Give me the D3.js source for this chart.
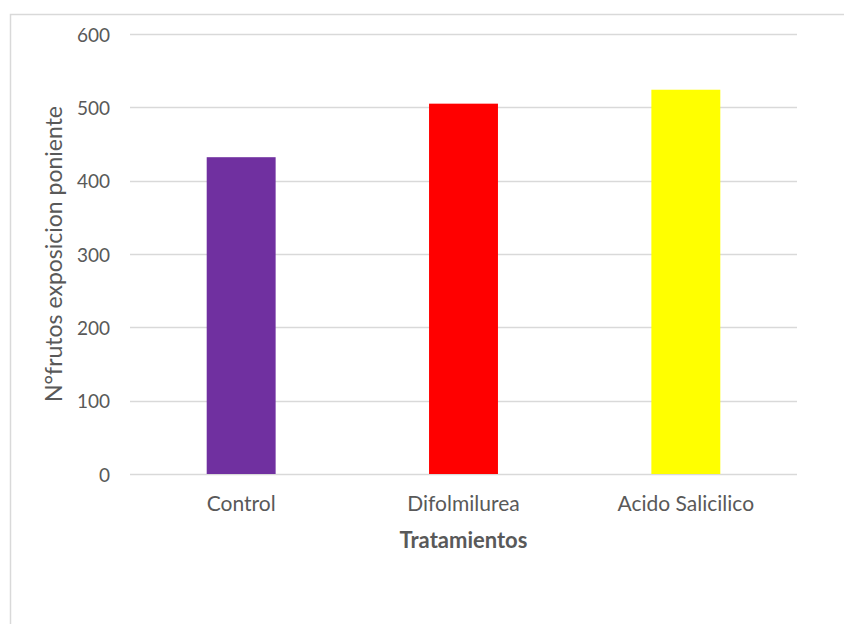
<!DOCTYPE html>
<html>
<head>
<meta charset="utf-8">
<script src="https://cdn.jsdelivr.net/npm/d3@7"></script>
<style>
  body { margin: 0; background: #fff; }
  svg { display: block; }
  svg text { font-family: Lato, "Open Sans", sans-serif; }
</style>
</head>
<body>
<svg id="chart" width="844" height="624"></svg>
<script>
const categories = ["Control", "Difolmilurea", "Acido Salicilico"];
const values = [432, 505, 524];
const barColors = ["#7030a0", "#ff0000", "#ffff00"];
const yTicks = [0, 100, 200, 300, 400, 500, 600];

const margin = { top: 34, right: 47, bottom: 150, left: 130 };
const width = 844 - margin.left - margin.right;
const height = 624 - margin.top - margin.bottom;

const root = d3.select("#chart");

// chart frame, clipped at right and bottom like the original
root.append("rect")
  .attr("x", 10.5).attr("y", 14.5)
  .attr("width", 840).attr("height", 620)
  .attr("fill", "none")
  .attr("stroke", "#d9d9d9")
  .attr("stroke-width", 1.5);

const svg = root.append("g")
  .attr("transform", `translate(${margin.left}, ${margin.top})`);

const xScale = d3.scaleBand()
  .domain(categories)
  .range([0, width])
  .paddingInner(0.69)
  .paddingOuter(0.345);

const yScale = d3.scaleLinear()
  .domain([0, 600])
  .range([height, 0]);

// gridlines
svg.append("g")
  .selectAll("line")
  .data(yTicks)
  .enter()
  .append("line")
  .attr("x1", 0)
  .attr("x2", width)
  .attr("y1", d => Math.round(yScale(d)) + 0.5)
  .attr("y2", d => Math.round(yScale(d)) + 0.5)
  .attr("stroke", "#d9d9d9")
  .attr("stroke-width", 1.5);

// y axis labels
const yAxis = d3.axisLeft(yScale).tickValues(yTicks).tickSize(0).tickPadding(20);
svg.append("g")
  .call(yAxis)
  .attr("font-family", null)
  .attr("font-size", null)
  .call(g => g.select(".domain").remove())
  .selectAll("text")
  .attr("dy", "0.38em")
  .attr("fill", "#595959")
  .style("font-size", "19px");

svg.selectAll(".bar")
  .data(values)
  .enter()
  .append("rect")
  .attr("class", "bar")
  .attr("x", (d, i) => xScale(categories[i]))
  .attr("y", d => yScale(d))
  .attr("width", xScale.bandwidth())
  .attr("height", d => height - yScale(d))
  .attr("fill", (d, i) => barColors[i]);

// x axis labels
const xAxis = d3.axisBottom(xScale).tickSize(0);
svg.append("g")
  .attr("transform", `translate(0, ${height})`)
  .call(xAxis)
  .attr("font-family", null)
  .attr("font-size", null)
  .call(g => g.select(".domain").remove())
  .selectAll("text")
  .attr("y", 37)
  .attr("dy", null)
  .attr("fill", "#595959")
  .style("font-size", "21px");

// axis titles
svg.append("text")
  .attr("x", width / 2)
  .attr("y", height + 74)
  .attr("text-anchor", "middle")
  .attr("fill", "#595959")
  .style("font-size", "22px")
  .style("font-weight", "bold")
  .text("Tratamientos");

svg.append("text")
  .attr("transform", `translate(${-68}, ${height / 2}) rotate(-90)`)
  .attr("text-anchor", "middle")
  .attr("fill", "#595959")
  .style("font-size", "23px")
  .text("N°frutos exposicion poniente");
</script>
</body>
</html>
